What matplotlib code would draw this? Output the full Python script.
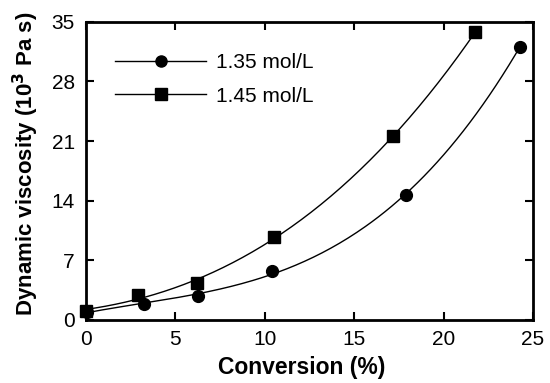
import numpy as np
import matplotlib
matplotlib.use("Agg")
import matplotlib.pyplot as plt
from matplotlib.lines import Line2D

plt.rcParams['font.family'] = ['Liberation Sans', 'DejaVu Sans']

x_135 = [0.07, 3.24, 6.28, 10.4, 17.92, 24.26]
y_135 = [0.97, 1.88, 2.82, 5.78, 14.67, 32.07]
x_145 = [0.0, 2.92, 6.19, 10.51, 17.18, 21.78]
y_145 = [1.09, 2.93, 4.3, 9.7, 21.6, 33.8]
labels = ['1.35 mol/L', '1.45 mol/L']
xticks = [0, 5, 10, 15, 20, 25]
yticks = [0, 7, 14, 21, 28, 35]

fig = plt.figure(figsize=(5.5, 3.83), dpi=100)
ax = fig.add_axes([0.1564, 0.1645, 0.9691 - 0.1564, 0.9433 - 0.1645])

for xs, ys, m, ms in [(x_135, y_135, 'o', 8.5), (x_145, y_145, 's', 8.5)]:
    xs = np.array(xs); ys = np.array(ys)
    c = np.polyfit(xs, ys, 3)
    xx = np.linspace(xs.min(), xs.max(), 200)
    ax.plot(xx, np.polyval(c, xx), color='black', lw=1.0, clip_on=False)
    ax.plot(xs, ys, linestyle='none', marker=m, ms=ms, color='black', clip_on=False, zorder=5)

h1 = Line2D([], [], color='black', lw=1.0, marker='o', ms=8)
h2 = Line2D([], [], color='black', lw=1.0, marker='s', ms=8)
ax.legend([h1, h2], labels, loc='upper left', bbox_to_anchor=(0.024, 0.958), frameon=False,
          fontsize=15, handlelength=4.35, handletextpad=0.48, labelspacing=0.7)

ax.set_xlim(0, 25)
ax.set_ylim(0, 35)
ax.set_xticks(xticks)
ax.set_yticks(yticks)
ax.tick_params(direction='in', top=True, right=True, length=6, width=1.5, labelsize=15)
ax.tick_params(axis='x', pad=7)
ax.tick_params(axis='y', pad=8)
for s in ax.spines.values():
    s.set_linewidth(2)
ax.set_xlabel('Conversion (%)', fontsize=16.5, fontweight='bold', labelpad=5)
ax.set_ylabel('Dynamic viscosity (10$^{\\mathbf{3}}$ Pa s)', fontsize=16, fontweight='bold', labelpad=8)
ax.xaxis.label.set_x(0.483)
ax.yaxis.label.set_y(0.523)

fig.savefig('out.png', dpi=100)
